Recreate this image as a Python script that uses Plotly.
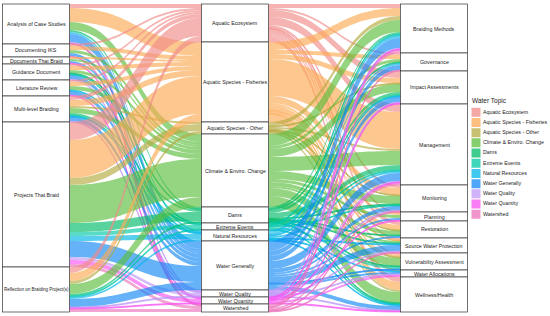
import plotly.graph_objects as go
import numpy as np

# ---------------- data ----------------
left_labels = ["Analysis of Case Studies", "Documenting IKS", "Documents That Braid",
               "Guidance Document", "Literature Review", "Multi-level Braiding",
               "Projects That Braid", "Reflection on Braiding Project(s)"]
topics = ["Aquatic Ecosystem", "Aquatic Species - Fisheries", "Aquatic Species - Other",
          "Climate & Enviro. Change", "Dams", "Extreme Events", "Natural Resources",
          "Water Generally", "Water Quality", "Water Quantity", "Watershed"]
right_labels = ["Braiding Methods", "Governance", "Impact Assessments", "Management",
                "Monitoring", "Planning", "Restoration", "Source Water Protection",
                "Vulnerability Assessment", "Water Allocations", "Wellness/Health"]

# flows: left category (rows) -> water topic (cols)
left_to_topic = [
    [4, 14, 0, 8, 2, 0, 2, 8, 1, 0, 1],
    [2, 4, 0, 3, 0, 0, 0, 3, 0, 0, 1],
    [0, 2, 0, 2, 0, 0, 0, 2, 0, 1, 0],
    [2, 4, 0, 3, 1, 1, 0, 4, 1, 0, 0],
    [2, 4, 0, 4, 0, 0, 1, 4, 0, 1, 0],
    [4, 6, 2, 5, 2, 1, 1, 4, 1, 0, 0],
    [18, 38, 7, 38, 9, 4, 5, 16, 3, 4, 3],
    [6, 8, 3, 10, 2, 1, 2, 8, 1, 1, 3],
]
# flows: water topic (rows) -> right category (cols)
topic_to_right = [
    [4, 2, 7, 8, 3, 1, 4, 2, 2, 0, 5],
    [8, 4, 5, 37, 7, 2, 5, 1, 2, 1, 8],
    [4, 0, 1, 2, 1, 0, 1, 0, 1, 0, 2],
    [12, 3, 8, 14, 8, 3, 4, 2, 8, 0, 11],
    [2, 1, 3, 5, 1, 0, 1, 1, 1, 0, 1],
    [1, 0, 1, 1, 1, 0, 0, 0, 2, 0, 1],
    [3, 2, 1, 2, 0, 0, 0, 1, 0, 1, 1],
    [10, 5, 5, 8, 4, 2, 2, 6, 1, 2, 4],
    [1, 0, 1, 1, 1, 0, 0, 1, 0, 1, 1],
    [1, 0, 1, 1, 0, 1, 0, 0, 0, 2, 1],
    [3, 1, 0, 2, 1, 0, 0, 1, 0, 0, 0],
]
topic_colors = ["#F08B88", "#FCAA54", "#B6AB40", "#5CBF3E", "#00BB6A", "#00C8A8",
                "#00B6E8", "#1388F5", "#BF98F6", "#F753F3", "#EB73BB"]

# ---------------- layout constants ----------------
W, H = 550, 316
top_px, bot_px = 4, 312
col_px = [36, 235, 434]
thick = 67
alpha = 0.65
font_fam = "Liberation Sans, Arial"


def rgba(hx, a):
    hx = hx.lstrip("#")
    r, g, b = int(hx[0:2], 16), int(hx[2:4], 16), int(hx[4:6], 16)
    return f"rgba({r},{g},{b},{a})"


L = np.array(left_to_topic, dtype=float)
R = np.array(topic_to_right, dtype=float)
nL, nT, nR = len(left_labels), len(topics), len(right_labels)
total = L.sum()
plot_h = bot_px - top_px

src, tgt, val, lcol = [], [], [], []
for i in range(nL):
    for j in range(nT):
        if L[i, j] > 0:
            src.append(i); tgt.append(nL + j); val.append(L[i, j])
            lcol.append(rgba(topic_colors[j], alpha))
for j in range(nT):
    for k in range(nR):
        if R[j, k] > 0:
            src.append(nL + j); tgt.append(nL + nT + k); val.append(R[j, k])
            lcol.append(rgba(topic_colors[j], alpha))

sizes = [L.sum(axis=1), L.sum(axis=0), R.sum(axis=0)]
node_x, node_y, ann = [], [], []
all_labels = [left_labels, topics, right_labels]
for c in range(3):
    cum = np.concatenate([[0], np.cumsum(sizes[c])])
    for i, s in enumerate(sizes[c]):
        center = (cum[i] + s / 2) / total  # fraction of sankey height
        node_x.append(col_px[c] / W)
        node_y.append(center)
        ypx = top_px + center * plot_h
        lab = all_labels[c][i]
        fs = 5.3 if len(lab) < 28 else 4.5
        ann.append(dict(x=col_px[c] / W, y=1 - ypx / H, xref="paper", yref="paper",
                        text=lab, showarrow=False,
                        font=dict(size=fs, color="#222", family=font_fam),
                        xanchor="center", yanchor="middle"))

fig = go.Figure()
fig.add_trace(go.Sankey(
    arrangement="fixed",
    domain=dict(x=[0, 1], y=[1 - bot_px / H, 1 - top_px / H]),
    node=dict(label=[""] * (nL + nT + nR), x=node_x, y=node_y, pad=0,
              thickness=thick, color="white", line=dict(color="#333", width=0.7)),
    link=dict(source=src, target=tgt, value=val, color=lcol, line=dict(width=0)),
    textfont=dict(size=1),
    hoverinfo="none",
))

# legend (drawn on a small hidden axis)
idx = list(range(nT))
fig.add_trace(go.Scatter(x=[6] * nT, y=idx, mode="markers", xaxis="x", yaxis="y",
                         marker=dict(symbol="square", size=9,
                                     color=[rgba(c, 0.75) for c in topic_colors],
                                     line=dict(width=0)),
                         showlegend=False, hoverinfo="skip"))
fig.add_trace(go.Scatter(x=[13] * nT, y=idx, mode="text", text=topics,
                         textposition="middle right", xaxis="x", yaxis="y",
                         textfont=dict(size=5.3, color="#222", family=font_fam),
                         showlegend=False, hoverinfo="skip"))
ann.append(dict(x=470 / W, y=1 - 101 / H, xref="paper", yref="paper", text="Water Topic",
                showarrow=False, xanchor="left", yanchor="middle",
                font=dict(size=6.5, color="#222", family=font_fam)))

fig.update_layout(
    width=W, height=H, margin=dict(l=0, r=0, t=0, b=0),
    paper_bgcolor="white", plot_bgcolor="rgba(0,0,0,0)",
    xaxis=dict(domain=[470 / W, 1], range=[0, 80], visible=False, fixedrange=True),
    yaxis=dict(domain=[1 - 219.3 / H, 1 - 107.2 / H], range=[10.5, -0.5], visible=False,
               fixedrange=True),
    annotations=ann, showlegend=False,
)
fig.write_html("out.html", config={"displayModeBar": False},
               post_script="document.body.style.margin='0px';document.body.style.overflow='hidden';")
